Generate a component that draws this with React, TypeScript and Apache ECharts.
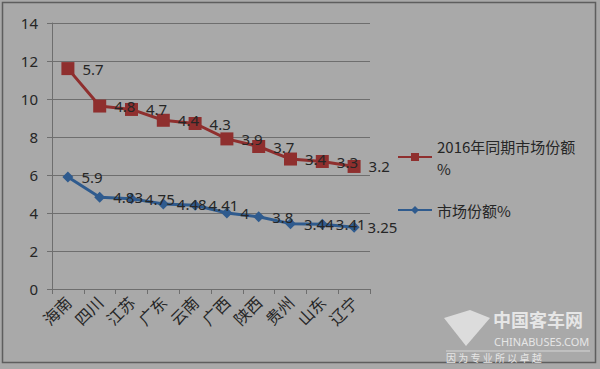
import React, { useEffect, useRef } from "react";
import * as echarts from "echarts";

const categories = ["海南", "四川", "江苏", "广东", "云南", "广西", "陕西", "贵州", "山东", "辽宁"];
const share2017 = [5.9, 4.83, 4.75, 4.48, 4.41, 4, 3.8, 3.44, 3.41, 3.25];
const share2016 = [5.7, 4.8, 4.7, 4.4, 4.3, 3.9, 3.7, 3.4, 3.3, 3.2];
const yTicks = { min: 0, max: 14, interval: 2 };
const seriesNames = ["2016年同期市场份额%", "市场份额%"];

export default function App() {
  const ref = useRef<HTMLDivElement>(null);
  useEffect(() => {
    if (!ref.current) return;
    const chart = echarts.init(ref.current, null, { renderer: "svg" });
    const red = "#8f2f2e";
    const blue = "#2f5b8e";
    const txt = "#262626";
    chart.setOption({
      animation: false,
      backgroundColor: "#a9a9a9",
      textStyle: { fontFamily: "'Noto Sans', 'Noto Sans CJK SC', sans-serif" },
      grid: { left: 52, top: 23, width: 318, height: 266 },
      legend: {
        orient: "vertical",
        left: 392,
        top: 130,
        itemWidth: 34,
        itemHeight: 10,
        itemGap: 20,
        data: [seriesNames[0], seriesNames[1]],
        formatter: (n: string) => (n === seriesNames[0] ? "2016年同期市场份额\n%" : n),
        textStyle: { color: txt, fontSize: 15, lineHeight: 22, fontFamily: "'Noto Sans CJK SC', sans-serif" },
      },
      xAxis: {
        type: "category",
        data: categories,
        axisLine: { lineStyle: { color: "#6e6e6e", width: 1 } },
        axisTick: { show: true, length: 5, lineStyle: { color: "#6e6e6e" } },
        axisLabel: {
          rotate: 45,
          color: txt,
          fontSize: 16,
          margin: 10,
          fontFamily: "'Noto Sans CJK SC', serif",
        },
      },
      yAxis: {
        type: "value",
        min: yTicks.min,
        max: yTicks.max,
        interval: yTicks.interval,
        axisLine: { show: true, lineStyle: { color: "#6e6e6e" } },
        axisTick: { show: true, length: 5, lineStyle: { color: "#6e6e6e" } },
        axisLabel: { color: txt, fontSize: 15, margin: 14 },
        splitLine: { lineStyle: { color: "#6e6e6e", width: 1 } },
      },
      series: [
        {
          name: seriesNames[1],
          type: "line",
          stack: "total",
          data: share2017,
          symbol: "diamond",
          symbolSize: 11,
          color: blue,
          lineStyle: { width: 3, color: blue },
          itemStyle: { color: blue },
          label: { show: true, position: "right", distance: 8, color: txt, fontSize: 15 },
          z: 3,
        },
        {
          name: seriesNames[0],
          type: "line",
          stack: "total",
          data: share2016,
          symbol: "rect",
          symbolSize: 13,
          color: red,
          lineStyle: { width: 3, color: red },
          itemStyle: { color: red },
          label: { show: true, position: "right", distance: 8, color: txt, fontSize: 15 },
          z: 3,
        },
      ],
      graphic: [
        {
          type: "rect",
          shape: { x: 2.5, y: 2.5, width: 593, height: 360 },
          style: { fill: "none", stroke: "#5e5e5e", lineWidth: 1.5 },
          silent: true,
        },
        {
          type: "polygon",
          shape: { points: [[444, 318], [470, 310], [490, 318], [466, 346]] },
          style: { fill: "#dcdcdc" },
          silent: true,
        },
        {
          type: "text",
          left: 493,
          top: 310,
          style: { text: "中国客车网", fill: "#e6e6e6", fontSize: 18, fontWeight: "bold", fontFamily: "'Noto Sans CJK SC', sans-serif" },
          silent: true,
        },
        {
          type: "text",
          left: 494,
          top: 336,
          style: { text: "CHINABUSES.COM", fill: "#e6e6e6", fontSize: 11, fontFamily: "'Noto Sans', sans-serif" },
          silent: true,
        },
        {
          type: "line",
          shape: { x1: 446, y1: 351, x2: 590, y2: 351 },
          style: { stroke: "#d6d6d6", lineWidth: 1 },
          silent: true,
        },
        {
          type: "text",
          left: 446,
          top: 352,
          style: { text: "因 为 专 业 所 以 卓 越", fill: "#e6e6e6", fontSize: 10, fontFamily: "'Noto Sans CJK SC', sans-serif" },
          silent: true,
        },
      ],
    });
    return () => chart.dispose();
  }, []);
  return (
    <div style={{ position: "fixed", left: 0, top: 0, width: 600, height: 369, background: "#b0b0b0" }}>
      <div ref={ref} style={{ width: 600, height: 369 }} />
    </div>
  );
}
